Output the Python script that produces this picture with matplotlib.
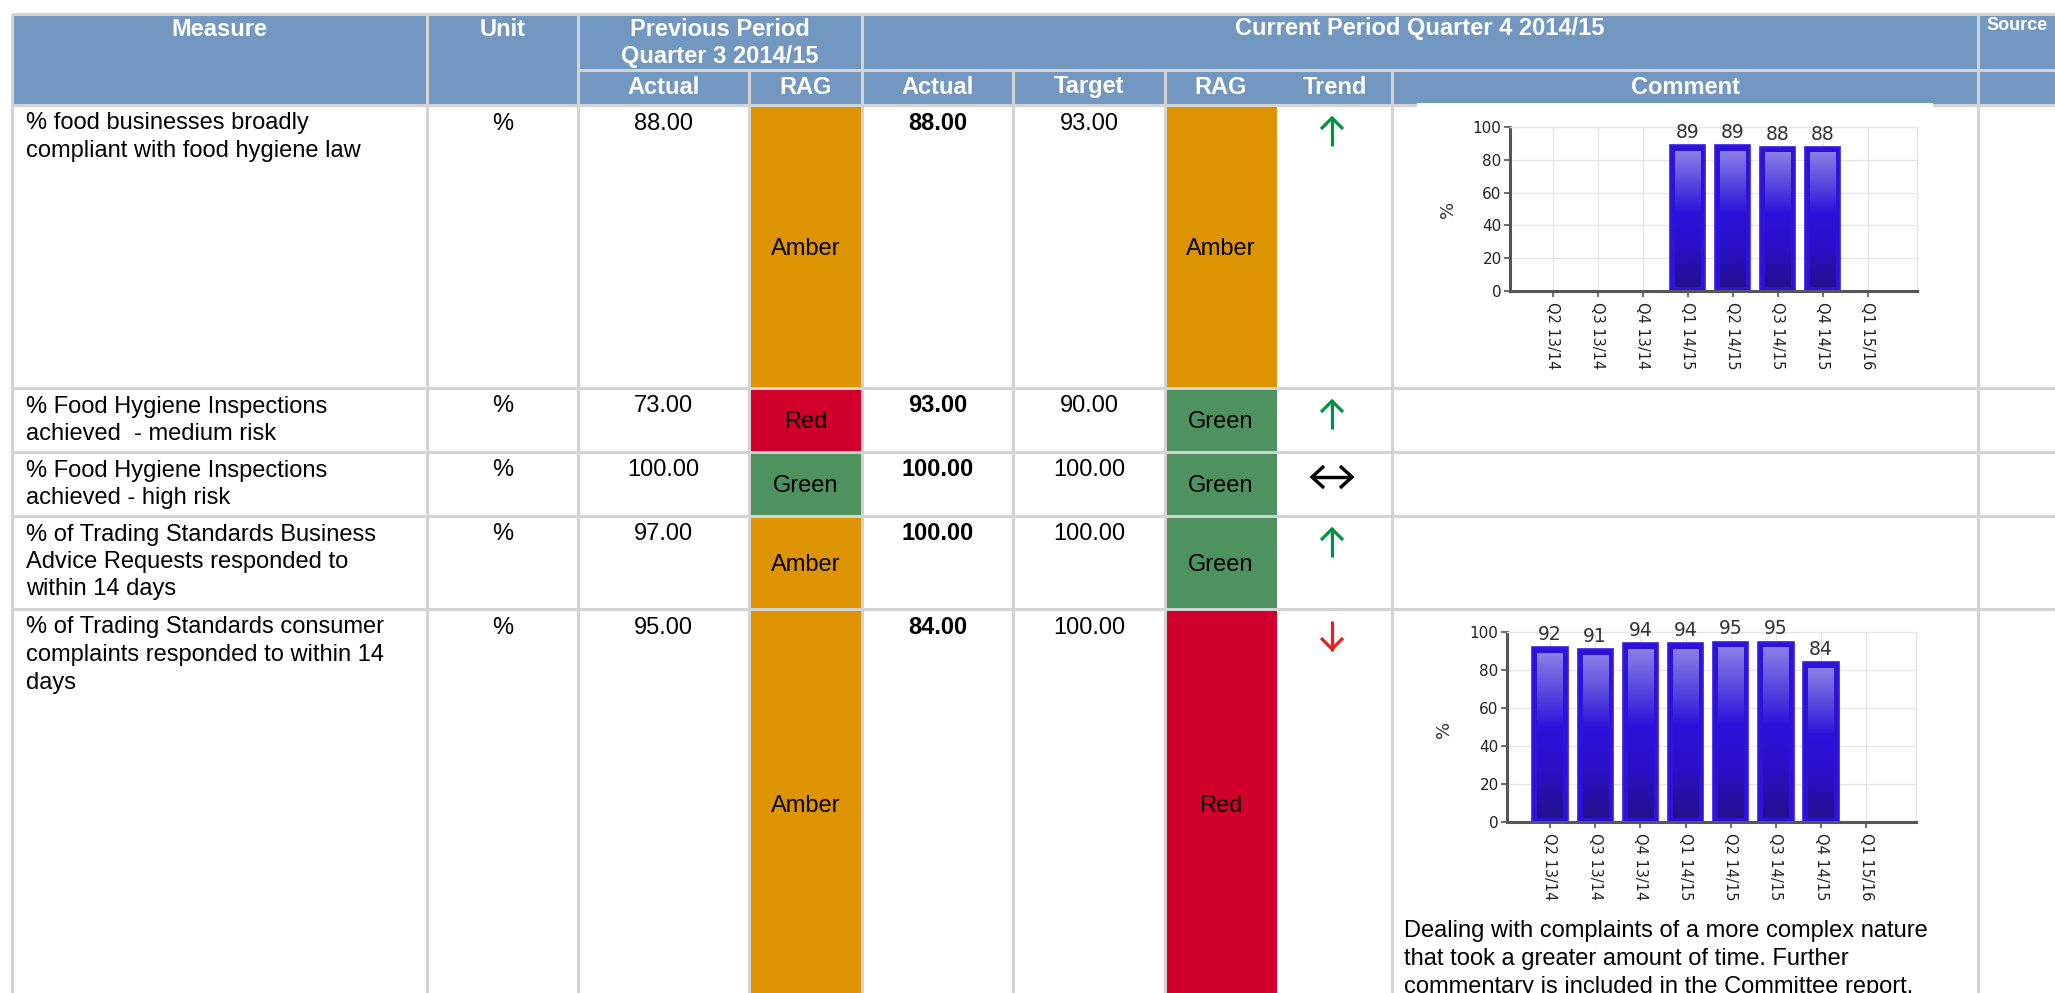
import numpy as np
import matplotlib.pyplot as plt
from matplotlib.patches import Rectangle
from matplotlib.colors import LinearSegmentedColormap

W, H = 2055, 993

# ---- table data ----
measures = [
    "% food businesses broadly\ncompliant with food hygiene law",
    "% Food Hygiene Inspections\nachieved  - medium risk",
    "% Food Hygiene Inspections\nachieved - high risk",
    "% of Trading Standards Business\nAdvice Requests responded to\nwithin 14 days",
    "% of Trading Standards consumer\ncomplaints responded to within 14\ndays",
]
units = ["%", "%", "%", "%", "%"]
prev_actual = [88, 73, 100, 97, 95]
prev_rag = ["Amber", "Red", "Green", "Amber", "Amber"]
curr_actual = [88, 93, 100, 100, 84]
curr_target = [93, 90, 100, 100, 100]
curr_rag = ["Amber", "Green", "Green", "Green", "Red"]
trend = ["up", "up", "flat", "up", "down"]

# ---- mini chart data ----
quarters = ["Q2 13/14", "Q3 13/14", "Q4 13/14", "Q1 14/15",
            "Q2 14/15", "Q3 14/15", "Q4 14/15", "Q1 15/16"]
hygiene_history = [None, None, None, 89, 89, 88, 88, None]
complaints_history = [92, 91, 94, 94, 95, 95, 84, None]

complaints_comment = [
    "Dealing with complaints of a more complex nature",
    "that took a greater amount of time. Further",
    "commentary is included in the Committee report.",
]

# ---- layout (pixels) ----
col_x = [12, 427, 578, 749, 862, 1013, 1165, 1277, 1392, 1978]
hdr_top, hdr_mid, hdr_bot = 14, 70, 105
row_y = [105, 388, 452, 516, 609, 997]

HEAD_BLUE = "#7298c1"
LINE = "#d3d3d3"
RAG_COL = {"Amber": "#de9300", "Red": "#d0002b", "Green": "#4e935f"}
FONT = "Liberation Sans"
FS = 17
LINE_H = 27.5


def px(v):
    return v * 72 / 100.0


fig = plt.figure(figsize=(W / 100, H / 100), dpi=100)
ax = fig.add_axes([0, 0, 1, 1])
ax.set_xlim(0, W)
ax.set_ylim(H, 0)
ax.axis("off")

# header background
ax.add_patch(Rectangle((col_x[0], hdr_top), W - col_x[0], hdr_bot - hdr_top,
                       color=HEAD_BLUE, lw=0, zorder=1))

# RAG cells
for i in range(len(measures)):
    top, bot = row_y[i], row_y[i + 1]
    ax.add_patch(Rectangle((col_x[3], top), col_x[4] - col_x[3], bot - top,
                           color=RAG_COL[prev_rag[i]], lw=0, zorder=1))
    ax.add_patch(Rectangle((col_x[6], top), col_x[7] - col_x[6], bot - top,
                           color=RAG_COL[curr_rag[i]], lw=0, zorder=1))

# grid lines
lw = px(3)
ax.hlines([hdr_top, hdr_bot], col_x[0], W, color=LINE, lw=lw, zorder=2)
ax.hlines(hdr_mid, col_x[2], W, color=LINE, lw=lw, zorder=2)
ax.vlines([col_x[0], col_x[1], col_x[2], col_x[4], col_x[9]], hdr_top, hdr_bot,
          color=LINE, lw=lw, zorder=2)
ax.vlines([col_x[3], col_x[5], col_x[6], col_x[8]], hdr_mid, hdr_bot,
          color=LINE, lw=lw, zorder=2)
ax.hlines(row_y[1:], col_x[0], W, color=LINE, lw=lw, zorder=2)
ax.vlines([col_x[k] for k in (0, 1, 2, 3, 4, 5, 6, 8, 9)], hdr_bot, H,
          color=LINE, lw=lw, zorder=2)
# chart image sits over the header border
ax.add_patch(Rectangle((1417, 103), 516, 4, color="white", lw=0, zorder=3))


def hdr_text(x, y, s, size=FS, ha="center"):
    ax.text(x, y + size * 100 / 72 * 0.36, s, ha=ha, va="baseline", color="white",
            fontsize=size, fontweight="bold", family=FONT, zorder=4)


def mid(a, b):
    return (col_x[a] + col_x[b]) / 2


hdr_text(mid(0, 1), 27, "Measure")
hdr_text(mid(1, 2), 27, "Unit")
hdr_text(mid(2, 4), 27, "Previous Period")
hdr_text(mid(2, 4), 54, "Quarter 3 2014/15")
hdr_text(mid(4, 9), 27, "Current Period Quarter 4 2014/15")
hdr_text(1986, 24, "Source", size=13, ha="left")
for a, b, s in [(2, 3, "Actual"), (3, 4, "RAG"), (4, 5, "Actual"), (5, 6, "Target"),
                (6, 7, "RAG"), (7, 8, "Trend"), (8, 9, "Comment")]:
    hdr_text(mid(a, b), 85, s)


def body_text(x, yc, s, ha="center", bold=False):
    ax.text(x, yc + 8.5, s, ha=ha, va="baseline", color="black", fontsize=FS,
            fontweight="bold" if bold else "normal", family=FONT, zorder=4)


def draw_arrow(kind, cx, top):
    if kind == "up":
        ax.plot([cx, cx], [top + 12, top + 41], color="#00933f", lw=px(3.2),
                solid_capstyle="butt", zorder=5)
        ax.plot([cx - 11, cx, cx + 11], [top + 24, top + 13, top + 24], color="#00933f",
                lw=px(3.2), solid_joinstyle="miter", solid_capstyle="butt", zorder=5)
    elif kind == "down":
        ax.plot([cx, cx], [top + 12, top + 42], color="#ee1c1c", lw=px(3.2),
                solid_capstyle="butt", zorder=5)
        ax.plot([cx - 11, cx, cx + 11], [top + 29, top + 40, top + 29], color="#ee1c1c",
                lw=px(3.2), solid_joinstyle="miter", solid_capstyle="butt", zorder=5)
    else:
        yc = top + 25
        ax.plot([cx - 20, cx + 20], [yc, yc], color="black", lw=px(3.4),
                solid_capstyle="butt", zorder=5)
        ax.plot([cx - 8, cx - 20, cx - 8], [yc - 11, yc, yc + 11], color="black",
                lw=px(3.4), solid_joinstyle="miter", solid_capstyle="butt", zorder=5)
        ax.plot([cx + 8, cx + 20, cx + 8], [yc - 11, yc, yc + 11], color="black",
                lw=px(3.4), solid_joinstyle="miter", solid_capstyle="butt", zorder=5)


for i, m in enumerate(measures):
    top, bot = row_y[i], row_y[i + 1]
    first = top + 16
    for k, line in enumerate(m.split("\n")):
        body_text(26, first + k * LINE_H, line, ha="left")
    body_text(mid(1, 2), first, units[i])
    body_text(mid(2, 3), first, f"{prev_actual[i]:.2f}")
    body_text(mid(3, 4), (top + bot) / 2, prev_rag[i])
    body_text(mid(4, 5), first, f"{curr_actual[i]:.2f}", bold=True)
    body_text(mid(5, 6), first, f"{curr_target[i]:.2f}")
    body_text(mid(6, 7), (top + bot) / 2, curr_rag[i])
    draw_arrow(trend[i], 1332, top)

for k, line in enumerate(complaints_comment):
    body_text(1404, 929 + k * LINE_H, line, ha="left")

# ---- mini bar charts ----
grad_cmap = LinearSegmentedColormap.from_list(
    "bar", [(0.0, "#22108e"), (0.3, "#2a10c8"), (0.55, "#2c12da"),
            (0.8, "#6050e0"), (1.0, "#8a7ee6")])
grad = np.linspace(0, 1, 200).reshape(-1, 1)


def mini_chart(box, values, ylab_xy):
    left, top, right, bottom = box
    cax = fig.add_axes([left / W, 1 - bottom / H, (right - left) / W, (bottom - top) / H])
    x = np.arange(len(quarters))
    xlim = (-0.95, len(quarters) + 0.1)
    bw = 0.78
    upx = (bottom - top) / 100.0          # pixels per value unit
    xpx = (right - left) / (xlim[1] - xlim[0])
    for xi, v in zip(x, values):
        if v is None:
            continue
        cax.bar(xi, v, width=bw, color="#2d12d8", edgecolor="#3a1ae6", lw=1.2, zorder=2)
        ix = 5 / xpx
        cax.imshow(grad, extent=(xi - bw / 2 + ix, xi + bw / 2 - ix, 4 / upx, v - 6 / upx),
                   origin="lower", aspect="auto", cmap=grad_cmap, zorder=3)
        cax.text(xi, v + 3 / upx, f"{v}", ha="center", va="bottom", fontsize=13.5,
                 color="#333333", family="DejaVu Sans", zorder=4)
    cax.set_xlim(*xlim)
    cax.set_ylim(0, 100)
    cax.set_xticks(x)
    cax.set_xticklabels(quarters, rotation=-90, fontsize=10.5, color="#222222",
                        family="DejaVu Sans")
    cax.set_yticks(range(0, 101, 20))
    cax.set_yticklabels([str(t) for t in range(0, 101, 20)], fontsize=11,
                        color="#222222", family="DejaVu Sans")
    cax.tick_params(length=4, width=1.2, color="#555555", pad=2)
    cax.tick_params(axis="x", pad=4)
    cax.grid(True, color="#e6e6e6", lw=1, zorder=0)
    cax.set_axisbelow(True)
    for s in ("left", "bottom"):
        cax.spines[s].set_color("#555555")
        cax.spines[s].set_linewidth(2.2)
    for s in ("top", "right"):
        cax.spines[s].set_color("#e6e6e6")
        cax.spines[s].set_linewidth(1)
    ax.text(ylab_xy[0], ylab_xy[1], "%", rotation=90, ha="center", va="center",
            fontsize=13, color="#333333", family="DejaVu Sans", zorder=4)
    return cax


mini_chart((1510, 127, 1917, 291), hygiene_history, (1448, 209))
mini_chart((1507, 632, 1916, 822), complaints_history, (1444, 729))

fig.savefig("out.png", dpi=100)
